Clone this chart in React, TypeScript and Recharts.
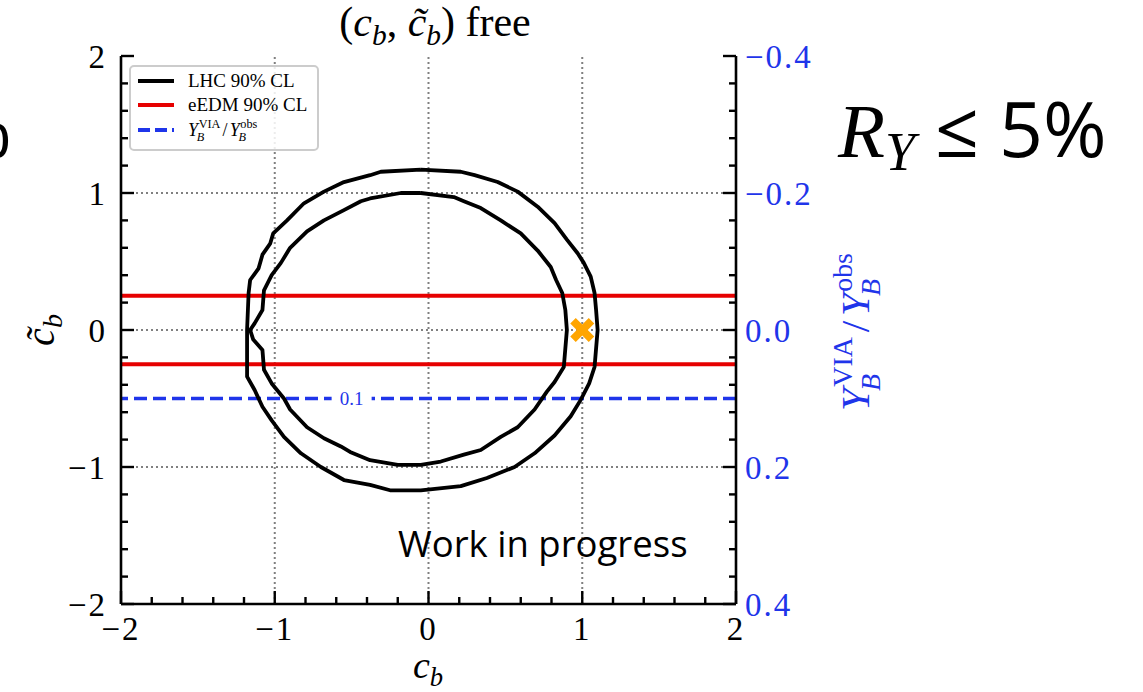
import React from 'react'
import { ComposedChart, Scatter, XAxis, YAxis, ReferenceLine } from 'recharts'

// LHC 90% CL contours in the (c_b, c~_b) plane, traced counter-clockwise from the top
const outerCb = [
  -0.05, -0.31, -0.38, -0.55, -0.68, -0.81, -0.92, -1.01, -1.03, -1.08, -1.105, -1.16, -1.17, -1.18,
  -1.18, -1.13, -1.08, -1.02, -0.94, -0.83, -0.7, -0.55, -0.38, -0.25, -0.05, 0.21, 0.38, 0.56, 0.69,
  0.82, 0.925, 0.99, 1.045, 1.08, 1.1, 1.09, 1.08, 1.055, 1.01, 0.97, 0.9, 0.82, 0.71, 0.58, 0.45,
  0.3, 0.21, -0.05,
]
const outerCbt = [
  1.17, 1.155, 1.13, 1.08, 1.01, 0.925, 0.8, 0.705, 0.63, 0.55, 0.45, 0.365, 0.27, 0.0,
  -0.34, -0.44, -0.56, -0.66, -0.78, -0.9, -1.0, -1.095, -1.13, -1.17, -1.17, -1.14, -1.08, -1.0, -0.9,
  -0.77, -0.63, -0.51, -0.39, -0.27, 0.0, 0.146, 0.27, 0.39, 0.49, 0.56, 0.66, 0.78, 0.9, 1.01, 1.08,
  1.13, 1.155, 1.17,
]
const innerCb = [
  -0.05, -0.18, -0.38, -0.44, -0.55, -0.68, -0.79, -0.9, -0.96, -1.02, -1.07, -1.08, -1.13, -1.16,
  -1.14, -1.08, -1.07, -1.02, -0.94, -0.9, -0.79, -0.68, -0.57, -0.51, -0.38, -0.2, -0.05, 0.08, 0.23,
  0.34, 0.47, 0.58, 0.69, 0.77, 0.82, 0.88, 0.9, 0.89, 0.87, 0.83, 0.795, 0.71, 0.6, 0.47, 0.34, 0.23,
  0.165, -0.05,
]
const innerCbt = [
  1.0, 1.0, 0.96, 0.94, 0.875, 0.8, 0.72, 0.6, 0.49, 0.4, 0.29, 0.146, 0.05, 0.0,
  -0.07, -0.146, -0.29, -0.39, -0.5, -0.58, -0.71, -0.79, -0.85, -0.89, -0.95, -0.985, -0.985, -0.96, -0.91,
  -0.876, -0.78, -0.71, -0.58, -0.45, -0.38, -0.27, 0.0, 0.146, 0.27, 0.365, 0.46, 0.58, 0.705, 0.8, 0.89, 0.94,
  0.97, 1.0,
]

// eEDM 90% CL bounds on c~_b
const edmBounds = [0.25, -0.25]
// Y_B^VIA / Y_B^obs contour level (right axis)
const ratioLevel = 0.1
const bestFit = [{ x: 1, y: 0 }]

const xMajor = [-2, -1, 0, 1, 2]
const yMajor = [-2, -1, 0, 1, 2]
const ratioMajor = [-0.4, -0.2, 0, 0.2, 0.4]
const gridAt = [-1, 0, 1]

const seriesNames = ['LHC 90% CL', 'eEDM 90% CL']

const BLACK = '#000000'
const RED = '#e60000'
const BLUE = '#1f35ea'
const ORANGE = '#ffa500'
const GRID = '#808080'
const SERIF = '"Liberation Serif", "DejaVu Serif", serif'
const SANS = '"Open Sans", "Noto Sans", sans-serif'

const toPoints = (xs: number[], ys: number[]) => xs.map((x, i) => ({ x, y: ys[i] }))
const outer = toPoints(outerCb, outerCbt)
const inner = toPoints(innerCb, innerCbt)

const stepTicks = (lo: number, hi: number, step: number) => {
  const out: number[] = []
  for (let v = lo; v <= hi + 1e-9; v += step) out.push(Math.round(v * 1000) / 1000)
  return out
}
const xTicks = stepTicks(-2, 2, 0.2)
const yTicks = stepTicks(-2, 2, 0.2)
const rTicks = stepTicks(-0.4, 0.4, 0.04)

const isIn = (list: number[], v: number) => list.some((m) => Math.abs(m - v) < 1e-6)
const minus = (s: string) => s.replace('-', '\u2212')

const MAJOR = 13
const MINOR = 7
const TICK_FONT = 33
const TICK_SPACING = 2

const BottomTick = ({ x, y, payload }: any) => {
  const major = isIn(xMajor, payload.value)
  return (
    <g>
      <line x1={x} x2={x} y1={y} y2={y - (major ? MAJOR : MINOR)} stroke={BLACK} strokeWidth={2.4} />
      {major && (
        <text
          x={x}
          y={y + 36}
          textAnchor="middle"
          fontFamily={SERIF}
          fontSize={TICK_FONT}
          letterSpacing={TICK_SPACING}
          fill={BLACK}
        >
          {minus(String(payload.value))}
        </text>
      )}
    </g>
  )
}

const LeftTick = ({ x, y, payload }: any) => {
  const major = isIn(yMajor, payload.value)
  return (
    <g>
      <line x1={x} x2={x + (major ? MAJOR : MINOR)} y1={y} y2={y} stroke={BLACK} strokeWidth={2.4} />
      {major && (
        <text
          x={x - 14}
          y={y}
          dy="0.35em"
          textAnchor="end"
          fontFamily={SERIF}
          fontSize={TICK_FONT}
          letterSpacing={TICK_SPACING}
          fill={BLACK}
        >
          {minus(String(payload.value))}
        </text>
      )}
    </g>
  )
}

const RightTick = ({ x, y, payload }: any) => {
  const major = isIn(ratioMajor, payload.value)
  return (
    <g>
      <line x1={x} x2={x - (major ? MAJOR : MINOR)} y1={y} y2={y} stroke={BLACK} strokeWidth={2.4} />
      {major && (
        <text
          x={x + 9}
          y={y}
          dy="0.35em"
          textAnchor="start"
          fontFamily={SERIF}
          fontSize={TICK_FONT}
          letterSpacing={TICK_SPACING}
          fill={BLUE}
        >
          {minus(payload.value.toFixed(1))}
        </text>
      )}
    </g>
  )
}

const NoDot = () => null

// filled 'X' marker for the benchmark point
const CrossMark = ({ cx, cy }: any) => {
  const a = 12
  const t = 5.5
  const pts = [
    [-a + t, -a], [0, -t], [a - t, -a], [a, -a + t], [t, 0], [a, a - t],
    [a - t, a], [0, t], [-a + t, a], [-a, a - t], [-t, 0], [-a, -a + t],
  ]
  return <polygon points={pts.map(([px, py]) => `${cx + px},${cy + py}`).join(' ')} fill={ORANGE} />
}

// inline contour label sitting in a gap of the dashed line
const LevelLabel = ({ viewBox }: any) => {
  if (!viewBox) return null
  const cx = viewBox.x + viewBox.width * 0.375
  const cy = viewBox.y
  return (
    <g>
      <rect x={cx - 20} y={cy - 6} width={40} height={12} fill="#fff" />
      <text x={cx} y={cy} dy="0.35em" textAnchor="middle" fontFamily={SERIF} fontSize={19} fill={BLUE}>
        {ratioLevel}
      </text>
    </g>
  )
}

const Sub = ({ children }: any) => (
  <span style={{ fontSize: '0.7em', position: 'relative', top: '0.3em', fontStyle: 'italic' }}>{children}</span>
)

// Y_B^{sup} with stacked scripts
const YB = ({ sup }: { sup: string }) => (
  <span style={{ position: 'relative', display: 'inline-block', whiteSpace: 'nowrap' }}>
    <i>Y</i>
    <span style={{ fontSize: '0.68em', position: 'relative', top: '-0.6em', marginLeft: '0.05em' }}>{sup}</span>
    <i style={{ fontSize: '0.68em', position: 'absolute', left: '0.72em', top: '0.85em' }}>B</i>
  </span>
)

const RatioLabel = () => (
  <span>
    <YB sup="VIA" />
    <span style={{ margin: '0 0.12em' }}>/</span>
    <YB sup="obs" />
  </span>
)

const Legend = () => (
  <div
    style={{
      position: 'absolute',
      left: 129,
      top: 65,
      width: 186,
      height: 82,
      border: '2px solid #cccccc',
      borderRadius: 5,
      background: 'rgba(255,255,255,0.85)',
      fontFamily: SERIF,
      fontSize: 19,
      color: BLACK,
    }}
  >
    {[BLACK, RED].map((c, i) => (
      <div key={i} style={{ position: 'absolute', left: 6, top: 2 + i * 24, height: 24, display: 'flex', alignItems: 'center' }}>
        <svg width={38} height={6}>
          <line x1={1} x2={37} y1={3} y2={3} stroke={c} strokeWidth={4} />
        </svg>
        <span style={{ marginLeft: 13, whiteSpace: 'nowrap' }}>{seriesNames[i]}</span>
      </div>
    ))}
    <div style={{ position: 'absolute', left: 6, top: 50, height: 26, display: 'flex', alignItems: 'center' }}>
      <svg width={38} height={6}>
        <line x1={1} x2={37} y1={3} y2={3} stroke={BLUE} strokeWidth={4} strokeDasharray="12 5" />
      </svg>
      <span style={{ marginLeft: 13, fontSize: 18 }}>
        <RatioLabel />
      </span>
    </div>
  </div>
)

export default function App() {
  return (
    <div
      style={{
        position: 'absolute',
        left: 0,
        top: 0,
        width: 1143,
        height: 692,
        background: '#fff',
        overflow: 'hidden',
        fontFamily: SERIF,
      }}
    >
      <ComposedChart width={1143} height={692} margin={{ top: 56, right: 347, bottom: 58, left: 61 }}>
        <XAxis
          xAxisId="b"
          type="number"
          dataKey="x"
          domain={[-2, 2]}
          ticks={xTicks}
          interval={0}
          allowDataOverflow
          height={30}
          tickSize={0}
          tickMargin={0}
          tickLine={false}
          tick={<BottomTick />}
          axisLine={{ stroke: BLACK, strokeWidth: 2.6 }}
        />
        <XAxis
          xAxisId="t"
          type="number"
          orientation="top"
          domain={[-2, 2]}
          height={0}
          tick={false}
          tickLine={false}
          axisLine={{ stroke: BLACK, strokeWidth: 2.6 }}
        />
        <YAxis
          yAxisId="l"
          type="number"
          dataKey="y"
          domain={[-2, 2]}
          ticks={yTicks}
          interval={0}
          allowDataOverflow
          width={60}
          tickSize={0}
          tickMargin={0}
          tickLine={false}
          tick={<LeftTick />}
          axisLine={{ stroke: BLACK, strokeWidth: 2.6 }}
        />
        <YAxis
          yAxisId="r"
          type="number"
          orientation="right"
          domain={[-0.4, 0.4]}
          reversed
          ticks={rTicks}
          interval={0}
          allowDataOverflow
          width={60}
          tickSize={0}
          tickMargin={0}
          tickLine={false}
          tick={<RightTick />}
          axisLine={{ stroke: BLACK, strokeWidth: 2.6 }}
        />

        {gridAt.map((v) => (
          <ReferenceLine key={`gx${v}`} xAxisId="b" yAxisId="l" x={v} stroke={GRID} strokeWidth={2} strokeDasharray="2 3" />
        ))}
        {gridAt.map((v) => (
          <ReferenceLine key={`gy${v}`} xAxisId="b" yAxisId="l" y={v} stroke={GRID} strokeWidth={2} strokeDasharray="2 3" />
        ))}

        <Scatter
          name={seriesNames[0]}
          xAxisId="b"
          yAxisId="l"
          data={outer}
          fill={BLACK}
          line={{ stroke: BLACK, strokeWidth: 3.8, strokeLinejoin: 'round' }}
          shape={NoDot}
          isAnimationActive={false}
        />
        <Scatter
          xAxisId="b"
          yAxisId="l"
          data={inner}
          fill={BLACK}
          line={{ stroke: BLACK, strokeWidth: 3.8, strokeLinejoin: 'round' }}
          shape={NoDot}
          isAnimationActive={false}
        />

        {edmBounds.map((v) => (
          <ReferenceLine key={`edm${v}`} xAxisId="b" yAxisId="l" y={v} stroke={RED} strokeWidth={3.8} />
        ))}
        <ReferenceLine
          xAxisId="b"
          yAxisId="r"
          y={ratioLevel}
          stroke={BLUE}
          strokeWidth={3.6}
          strokeDasharray="13 6"
          label={<LevelLabel />}
        />

        <Scatter xAxisId="b" yAxisId="l" data={bestFit} fill={ORANGE} shape={CrossMark} isAnimationActive={false} />
      </ComposedChart>

      <Legend />

      {/* title */}
      <div
        style={{
          position: 'absolute',
          left: 435,
          top: 0,
          transform: 'translateX(-50%)',
          fontSize: 42,
          lineHeight: 1.05,
          whiteSpace: 'nowrap',
        }}
      >
        (<i>c</i>
        <Sub>b</Sub>, <i>c&#771;</i>
        <Sub>b</Sub>) free
      </div>

      {/* x label */}
      <div
        style={{
          position: 'absolute',
          left: 428,
          top: 646,
          transform: 'translateX(-50%)',
          fontSize: 38,
          lineHeight: 1,
          whiteSpace: 'nowrap',
        }}
      >
        <i>c</i>
        <Sub>b</Sub>
      </div>

      {/* left y label */}
      <div
        style={{
          position: 'absolute',
          left: 40,
          top: 330,
          transform: 'translate(-50%, -50%) rotate(-90deg)',
          fontSize: 40,
          whiteSpace: 'nowrap',
        }}
      >
        <i>c&#771;</i>
        <Sub>b</Sub>
      </div>

      {/* right y label */}
      <div
        style={{
          position: 'absolute',
          left: 855,
          top: 332,
          transform: 'translate(-50%, -50%) rotate(-90deg)',
          fontSize: 41,
          color: BLUE,
          whiteSpace: 'nowrap',
        }}
      >
        <RatioLabel />
      </div>

      <div style={{ position: 'absolute', left: 398, top: 518, fontFamily: SANS, fontSize: 36.5, color: BLACK, whiteSpace: 'nowrap' }}>
        Work in progress
      </div>

      <div style={{ position: 'absolute', left: 838, top: 82, fontSize: 77, color: BLACK, whiteSpace: 'nowrap', lineHeight: 1.2 }}>
        <i style={{ fontFamily: SERIF }}>R</i>
        <i style={{ fontFamily: SERIF, fontSize: '0.7em', position: 'relative', top: '0.25em' }}>Y</i>
        <span style={{ fontFamily: SANS }}> ≤ 5%</span>
      </div>

      <div
        style={{
          position: 'absolute',
          left: -70,
          top: 82,
          width: 82,
          textAlign: 'right',
          fontFamily: SANS,
          fontSize: 77,
          lineHeight: 1.2,
          color: BLACK,
        }}
      >
        %
      </div>
    </div>
  )
}
